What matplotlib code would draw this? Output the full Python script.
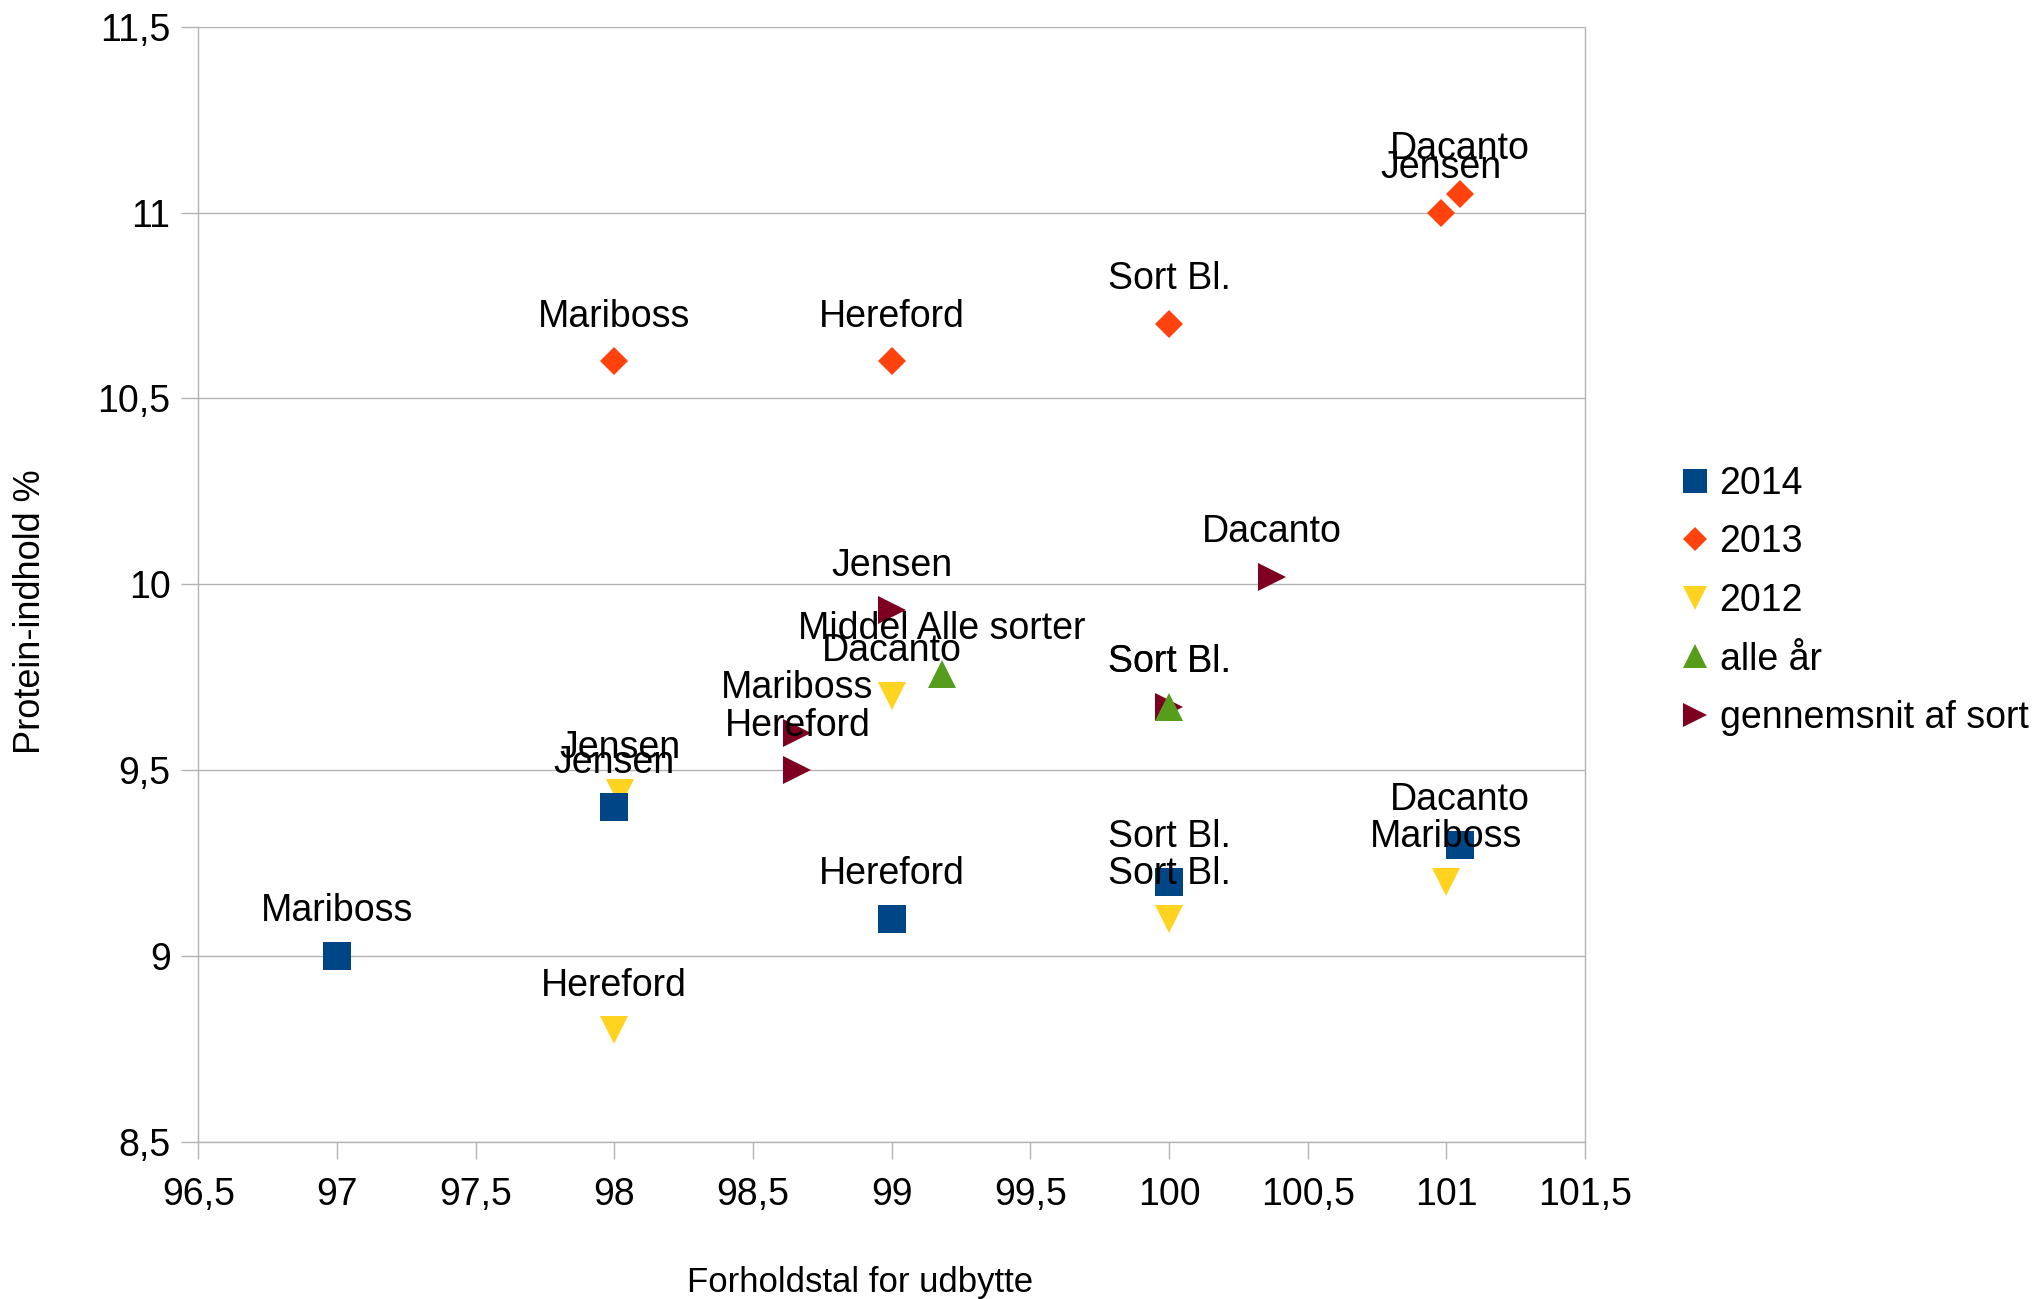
import matplotlib
matplotlib.use('Agg')
import matplotlib.pyplot as plt
from matplotlib.ticker import FixedLocator, FuncFormatter
from matplotlib.lines import Line2D

plt.rcParams['font.family'] = ['Liberation Sans', 'DejaVu Sans']

# ---- data ----
x_2014 = [97.0, 98.0, 99.0, 100.0, 101.05]
y_2014 = [9.0, 9.4, 9.1, 9.2, 9.3]
lab_2014 = ['Mariboss', 'Jensen', 'Hereford', 'Sort Bl.', 'Dacanto']

x_2013 = [98.0, 100.98, 99.0, 100.0, 101.05]
y_2013 = [10.6, 11.0, 10.6, 10.7, 11.05]
lab_2013 = ['Mariboss', 'Jensen', 'Hereford', 'Sort Bl.', 'Dacanto']

x_2012 = [101.0, 98.02, 98.0, 100.0, 99.0]
y_2012 = [9.2, 9.44, 8.8, 9.1, 9.7]
lab_2012 = ['Mariboss', 'Jensen', 'Hereford', 'Sort Bl.', 'Dacanto']

x_alle = [99.18, 100.0]
y_alle = [9.76, 9.67]
lab_alle = ['Middel Alle sorter', 'Sort Bl.']

x_gns = [98.66, 99.0, 98.66, 100.0, 100.37]
y_gns = [9.6, 9.93, 9.5, 9.67, 10.02]
lab_gns = ['Mariboss', 'Jensen', 'Hereford', 'Sort Bl.', 'Dacanto']

series_names = ['2014', '2013', '2012', 'alle år', 'gennemsnit af sort']
x_ticks = [96.5, 97, 97.5, 98, 98.5, 99, 99.5, 100, 100.5, 101, 101.5]
y_ticks = [8.5, 9, 9.5, 10, 10.5, 11, 11.5]

# ---- styles ----
colors = ['#004586', '#ff420e', '#ffd320', '#579d1c', '#7e0021']
markers = ['s', 'D', 'v', '^', '>']
msizes = [20, 14.5, 20, 20, 20]

fig = plt.figure(figsize=(20.35, 12.99), dpi=100)
ax = fig.add_axes([0.09745, 0.12086, 0.6814, 0.8586])

series = [(x_2014, y_2014, lab_2014), (x_2013, y_2013, lab_2013),
          (x_2012, y_2012, lab_2012), (x_alle, y_alle, lab_alle),
          (x_gns, y_gns, lab_gns)]
zorders = [8, 7, 6, 5, 4]

handles = []
for (xs, ys, labs), c, m, ms, z, name in zip(series, colors, markers, msizes, zorders, series_names):
    ax.plot(xs, ys, linestyle='none', marker=m, markersize=ms, color=c,
            markeredgewidth=0, zorder=z, clip_on=False)
    handles.append(Line2D([], [], linestyle='none', marker=m, markersize=ms * 0.85,
                          color=c, markeredgewidth=0, label=name))
    for xv, yv, lab in zip(xs, ys, labs):
        ax.annotate(lab, (xv, yv), xytext=(0, 25), textcoords='offset points',
                    ha='center', va='baseline', fontsize=27, color='black', zorder=20)

ax.set_xlim(96.5, 101.5)
ax.set_ylim(8.5, 11.5)
ax.xaxis.set_major_locator(FixedLocator(x_ticks))
ax.yaxis.set_major_locator(FixedLocator(y_ticks))
fmt = FuncFormatter(lambda v, p: ('%g' % v).replace('.', ','))
ax.xaxis.set_major_formatter(fmt)
ax.yaxis.set_major_formatter(fmt)

ax.grid(axis='y', color='#b3b3b3', linewidth=1.0)
ax.set_axisbelow(True)
for s in ax.spines.values():
    s.set_color('#b3b3b3')
    s.set_linewidth(1.0)
ax.spines['top'].set_visible(False)
ax.tick_params(axis='both', direction='out', color='#b3b3b3', width=1.0,
               length=12, labelsize=27, labelcolor='black')
ax.tick_params(axis='x', pad=13)
ax.tick_params(axis='y', pad=8)

fig.text(31 / 2035, 1 - 612 / 1299, 'Protein-indhold %', rotation=90,
         ha='center', va='center', fontsize=26)
fig.text(860 / 2035, 1 - 1292 / 1299, 'Forholdstal for udbytte',
         ha='center', va='baseline', fontsize=25)

ax.legend(handles=handles, loc='upper left', bbox_to_anchor=(1682 / 2035, 1 - 466 / 1299),
          bbox_transform=fig.transFigure, frameon=False, fontsize=27,
          handlelength=0.7, handletextpad=0.3, labelspacing=0.6,
          borderpad=0, borderaxespad=0)

fig.savefig('out.png', dpi=100)
